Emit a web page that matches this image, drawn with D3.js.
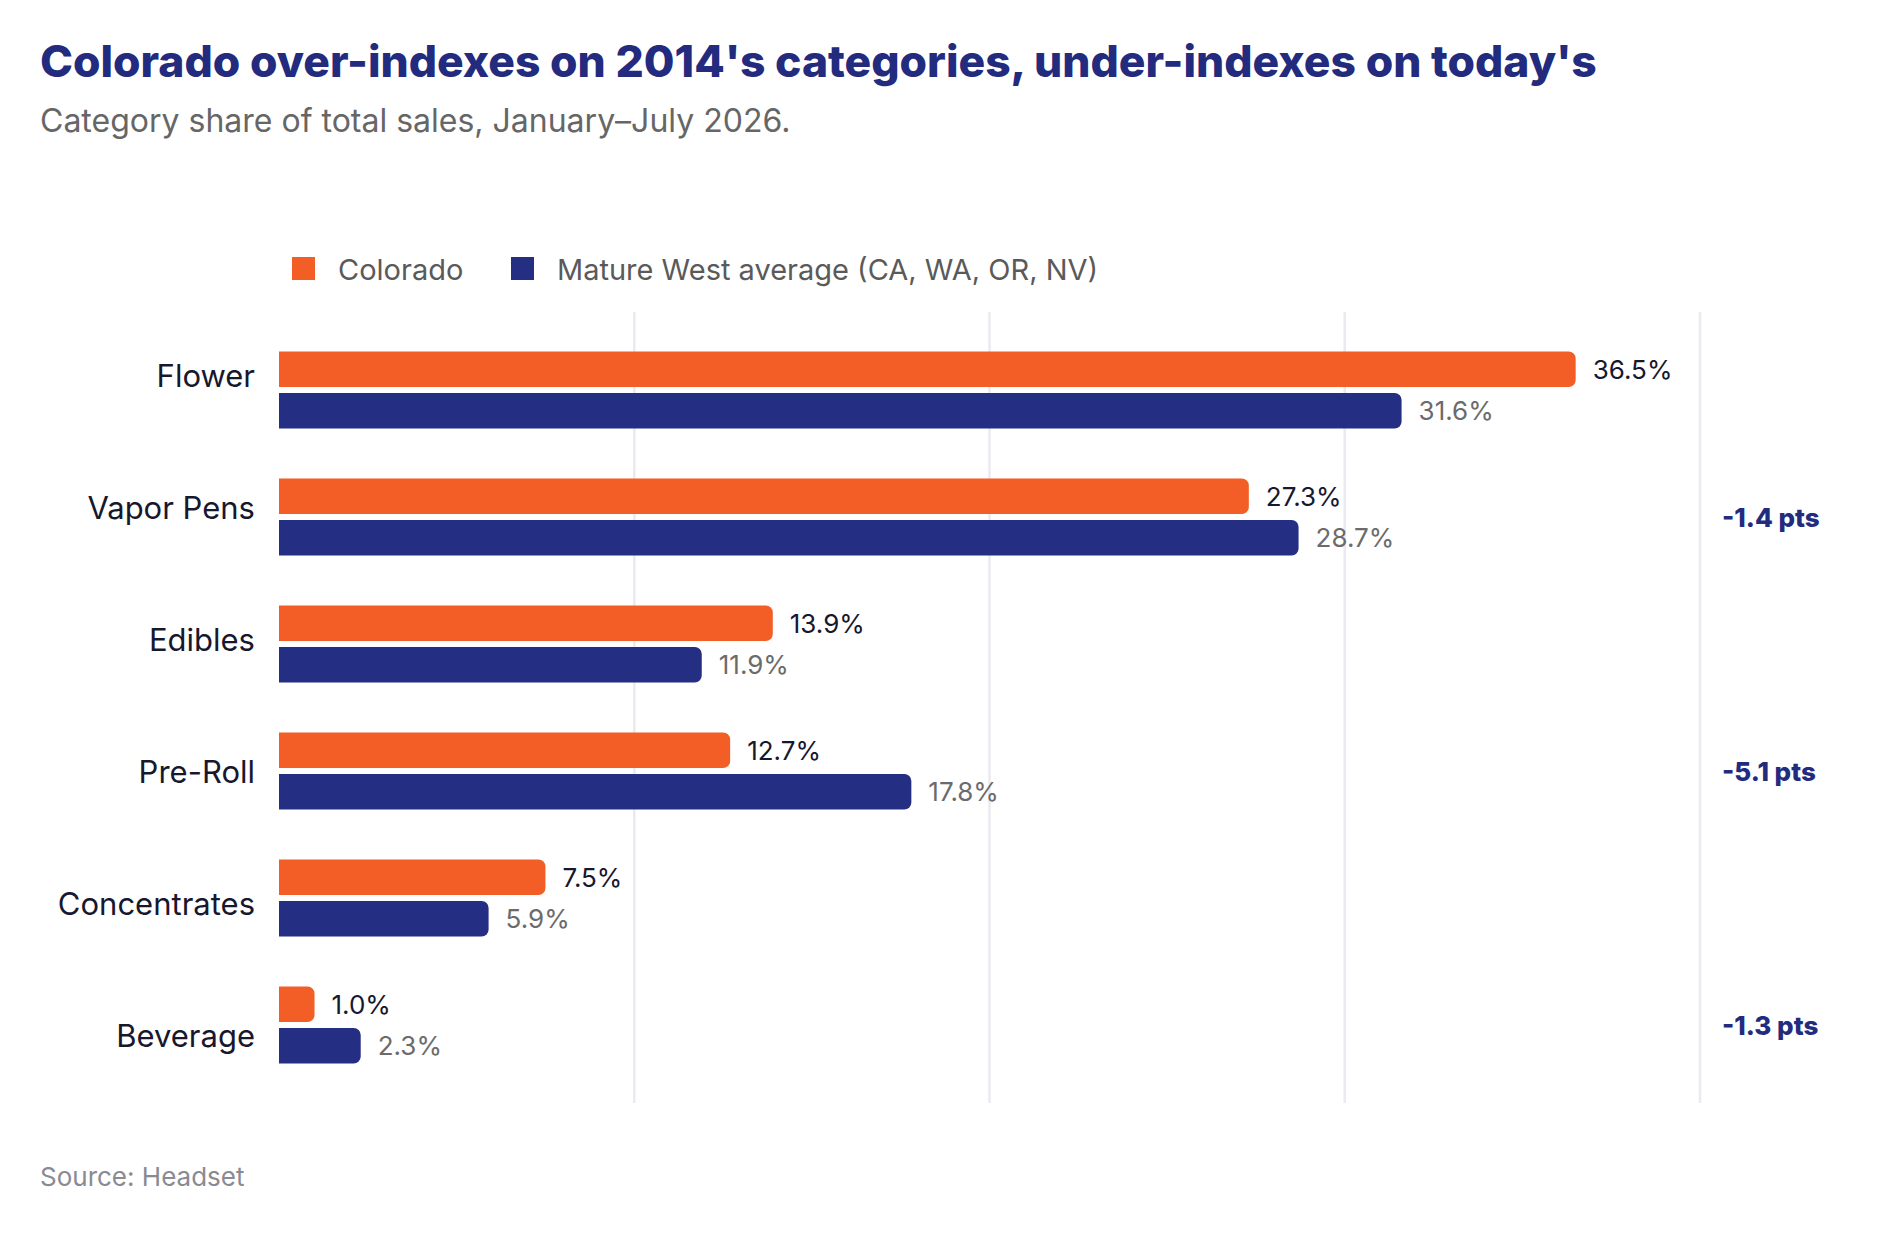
<!DOCTYPE html>
<html>
<head>
<meta charset="utf-8">
<script src="https://cdn.jsdelivr.net/npm/d3@7"></script>
<style>
  body { margin: 0; background: #fff; }
  text { font-family: Inter, "Noto Sans", sans-serif; }
</style>
</head>
<body>
<svg id="chart"></svg>
<script>
// data
categories = ['Flower', 'Vapor Pens', 'Edibles', 'Pre-Roll', 'Concentrates', 'Beverage']
colorado = [36.5, 27.3, 13.9, 12.7, 7.5, 1.0]
matureWest = [31.6, 28.7, 11.9, 17.8, 5.9, 2.3]
seriesNames = ['Colorado', 'Mature West average (CA, WA, OR, NV)']
gridTicks = [10, 20, 30, 40]

W = 1881
H = 1233
orange = '#f25e25'
navy = '#242e82'

svg = d3.select('#chart').attr('width', W).attr('height', H)

// title block
svg.append('text').text("Colorado over-indexes on 2014's categories, under-indexes on today's")
  .attr('x', 40).attr('y', 77)
  .attr('font-size', 44.4).attr('font-weight', 800).attr('fill', '#232b7f')
svg.append('text').text('Category share of total sales, January\u2013July 2026.')
  .attr('x', 40).attr('y', 132)
  .attr('font-size', 32).attr('fill', '#666')

// legend
legend = svg.append('g')
legendX = [292, 511]
seriesNames.forEach(function(name, i) {
  legend.append('rect').attr('x', legendX[i]).attr('y', 257)
    .attr('width', 23).attr('height', 23).attr('fill', i == 0 ? orange : navy)
  legend.append('text').text(name)
    .attr('x', legendX[i] + 46).attr('y', 269)
    .attr('dominant-baseline', 'central')
    .attr('font-size', 29).attr('fill', '#5a5a5a')
})

// scales
x = d3.scaleLinear().domain([0, 40]).range([279, 1700])
yLabel = d3.scaleBand().domain(categories).range([309, 1101])
yBar = d3.scaleBand().domain(categories).range([326.5, 1088.5])
ySub = d3.scaleBand().domain([0, 1]).range([0, 77]).paddingInner(6 / 41.5)

// gridlines
svg.selectAll('.grid').data(gridTicks).enter()
  .append('line')
  .attr('x1', function(d) { return x(d) }).attr('x2', function(d) { return x(d) })
  .attr('y1', 312).attr('y2', 1103)
  .attr('stroke', '#eaeaf0').attr('stroke-width', 2.5)

// category labels
svg.selectAll('.cat').data(categories).enter()
  .append('text').text(function(d) { return d })
  .attr('x', 255)
  .attr('y', function(d) { return yLabel(d) + yLabel.bandwidth() / 2 })
  .attr('text-anchor', 'end').attr('dominant-baseline', 'central')
  .attr('font-size', 31).attr('fill', '#17172e')

// bar with flat left end and rounded right end
function barPath(x0, x1, y, h, r) {
  r = Math.min(r, (x1 - x0) / 2, h / 2)
  return `M${x0},${y}H${x1 - r}A${r},${r} 0 0 1 ${x1},${y + r}` +
         `V${y + h - r}A${r},${r} 0 0 1 ${x1 - r},${y + h}H${x0}Z`
}

rows = categories.map(function(c, i) {
  return { cat: c, values: [colorado[i], matureWest[i]] }
})

groupOffset = (yBar.bandwidth() - 77) / 2

rows.forEach(function(row) {
  var g = svg.append('g')
    .attr('transform', `translate(0,${yBar(row.cat) + groupOffset})`)
  row.values.forEach(function(v, j) {
    var y0 = ySub(j), h = ySub.bandwidth()
    g.append('path')
      .attr('d', barPath(x(0), x(v), y0, h, 7))
      .attr('fill', j == 0 ? orange : navy)
    g.append('text').text(v.toFixed(1) + '%')
      .attr('x', x(v) + 17).attr('y', y0 + h / 2)
      .attr('dominant-baseline', 'central')
      .attr('font-size', 26).attr('fill', j == 0 ? '#17172e' : '#6b6b6b')
  })
  // gap note where Colorado trails the mature markets
  var diff = row.values[0] - row.values[1]
  if (diff < 0) {
    svg.append('text').text(diff.toFixed(1) + ' pts')
      .attr('x', 1722).attr('y', yBar(row.cat) + yBar.bandwidth() / 2)
      .attr('dominant-baseline', 'central')
      .attr('font-size', 26).attr('font-weight', 800).attr('fill', '#232b7f')
  }
})

svg.append('text').text('Source: Headset')
  .attr('x', 40).attr('y', 1186)
  .attr('font-size', 26).attr('fill', '#8a8a93')
</script>
</body>
</html>
